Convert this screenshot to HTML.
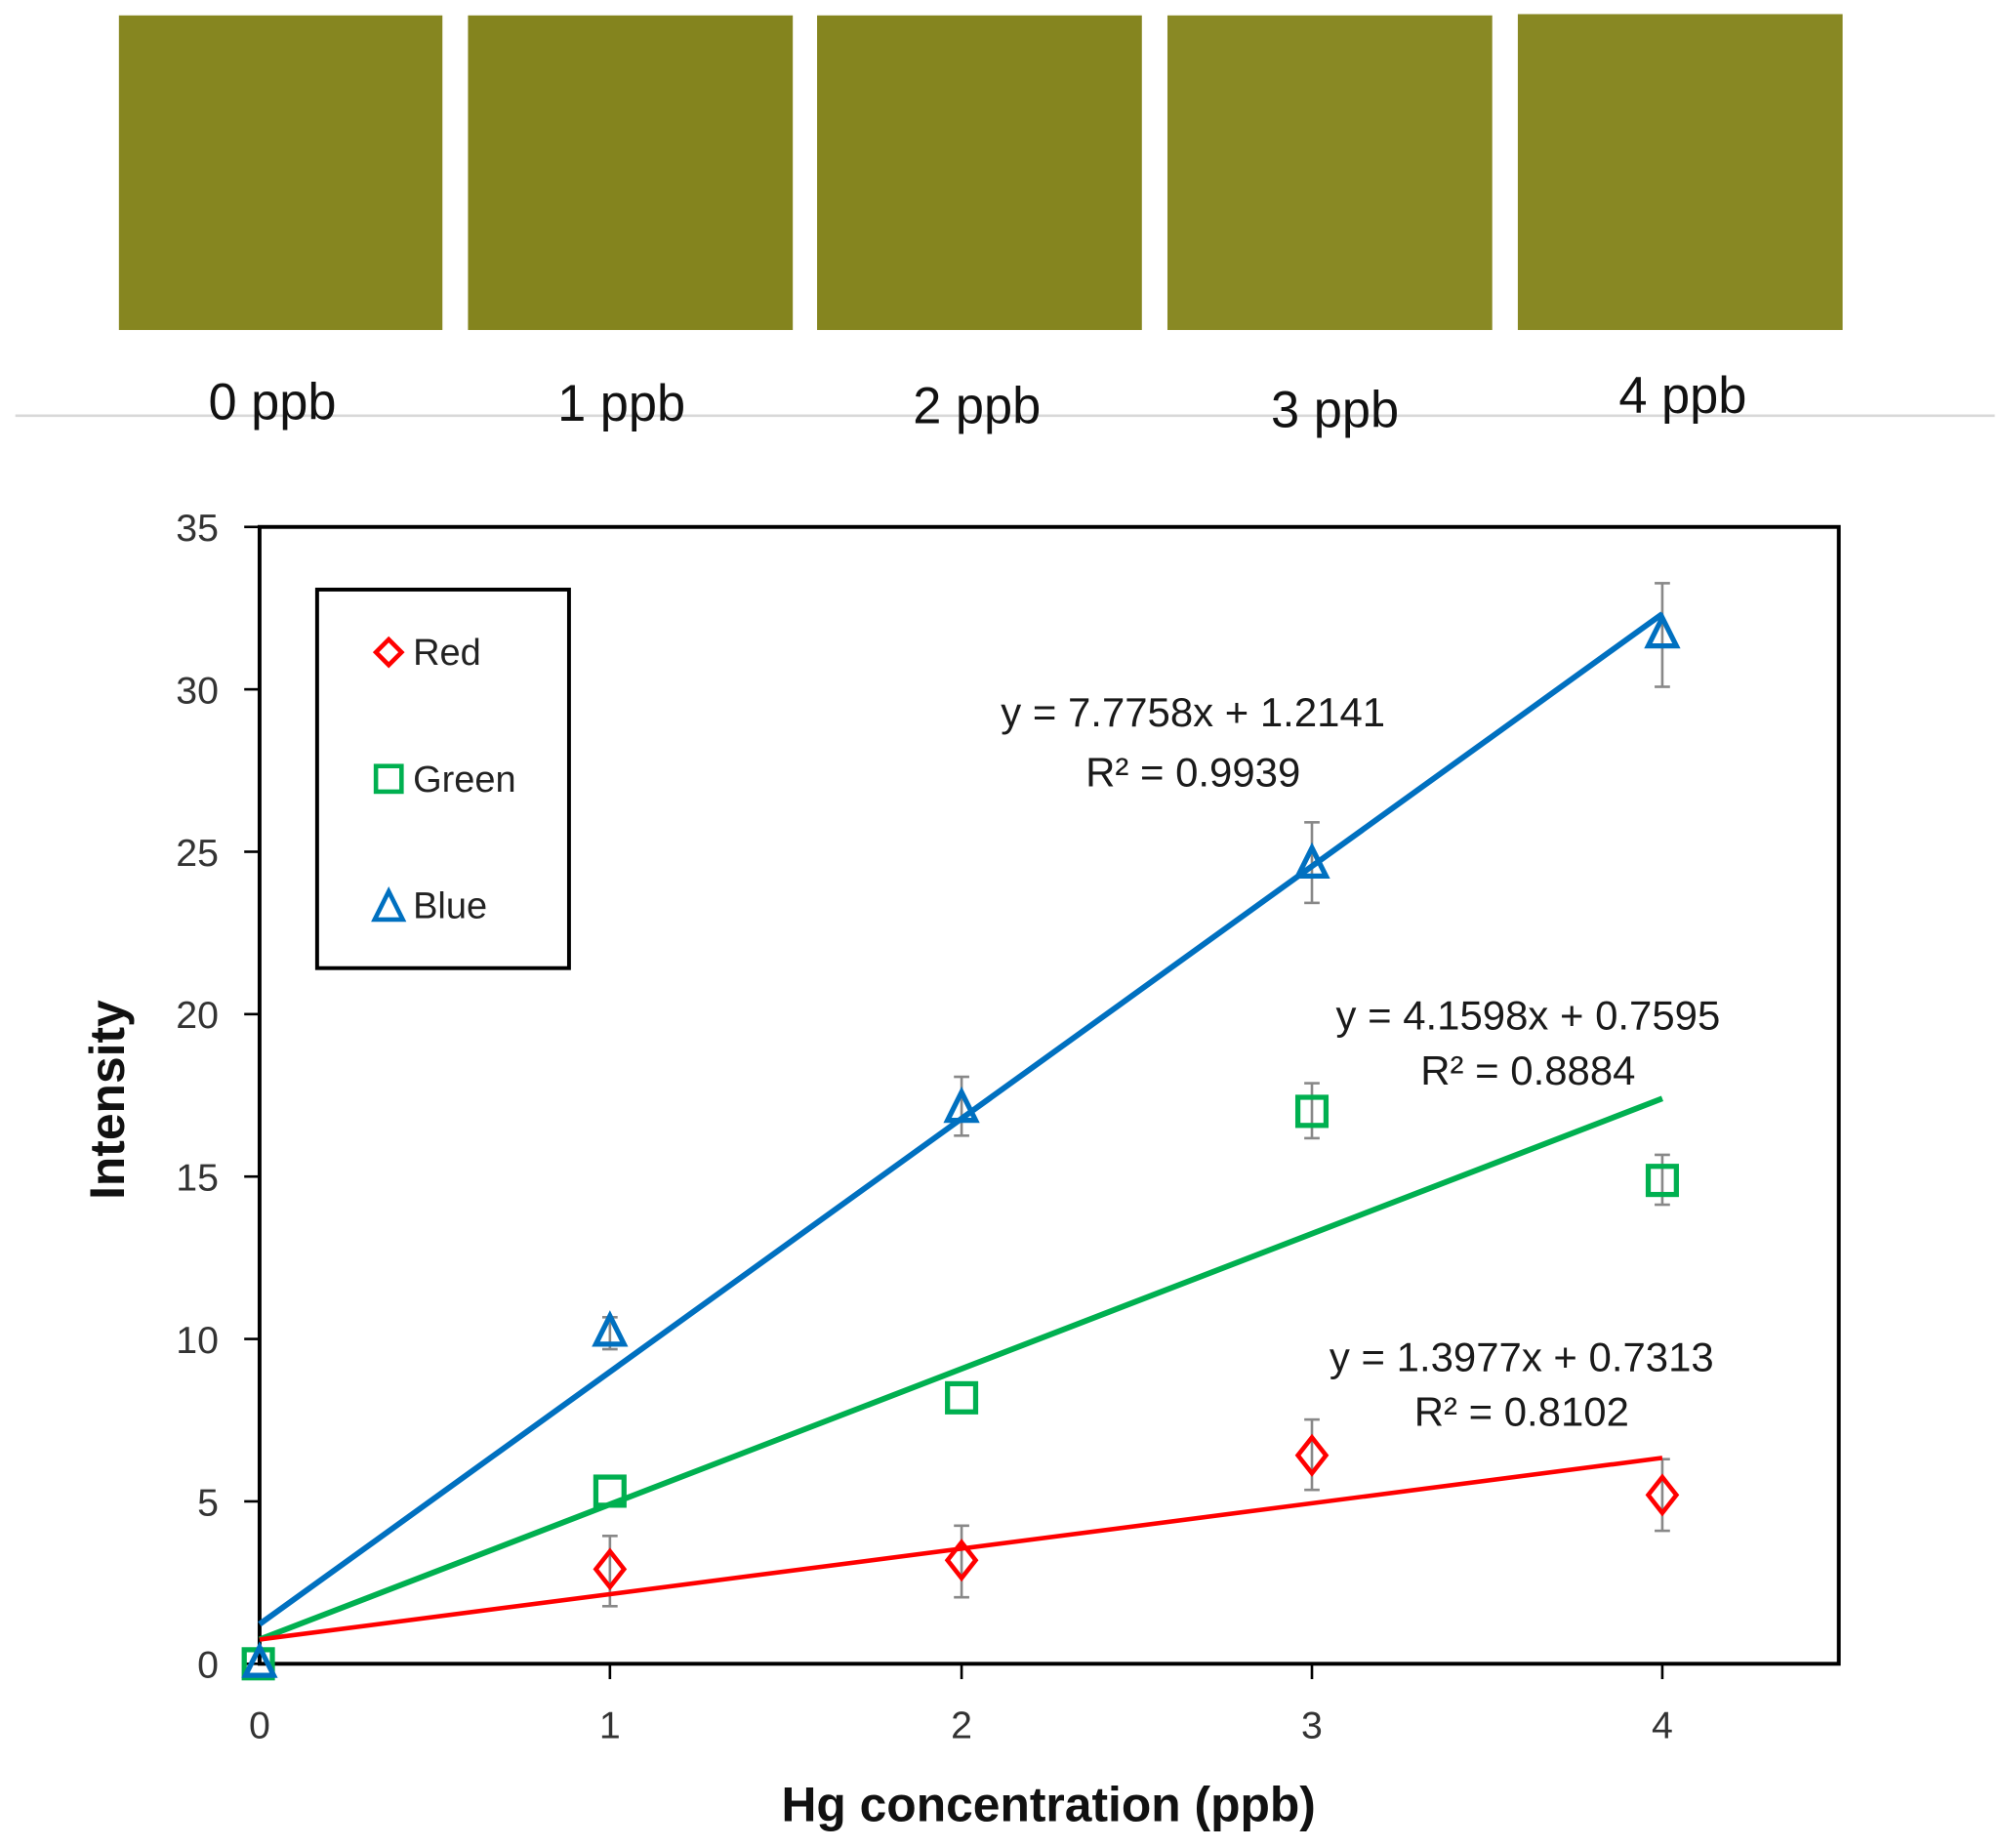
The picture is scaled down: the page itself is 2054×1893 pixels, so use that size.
<!DOCTYPE html>
<html><head><meta charset="utf-8"><style>html,body{margin:0;padding:0;background:#fff}svg{display:block}</style></head>
<body>
<svg width="2054" height="1893" viewBox="0 0 1568 1445" xmlns="http://www.w3.org/2000/svg" font-family="'Liberation Sans', 'DejaVu Sans', sans-serif">
<rect width="1568" height="1445" fill="#fff"/>
<g fill="#868620">
<rect x="93" y="12" width="253" height="246"/>
<rect x="366" y="12" width="254" height="246" fill="#84841e"/>
<rect x="639" y="12" width="254" height="246" fill="#85851f"/>
<rect x="913" y="12" width="254" height="246" fill="#898924"/>
<rect x="1187" y="11" width="254" height="247" fill="#888823"/>
</g>
<line x1="12" y1="325" x2="1560" y2="325" stroke="#d8d8d8" stroke-width="2"/>
<g font-size="40" fill="#111" text-anchor="middle">
<text x="213" y="328">0 ppb</text>
<text x="486" y="329">1 ppb</text>
<text x="764" y="331">2 ppb</text>
<text x="1044" y="334">3 ppb</text>
<text x="1316" y="323">4 ppb</text>
</g>
<rect x="203" y="412" width="1235" height="889" fill="none" stroke="#000" stroke-width="3"/>
<g stroke="#000" stroke-width="2">
<line x1="191" y1="412" x2="203" y2="412"/><line x1="191" y1="539" x2="203" y2="539"/>
<line x1="191" y1="666" x2="203" y2="666"/><line x1="191" y1="793" x2="203" y2="793"/>
<line x1="191" y1="920" x2="203" y2="920"/><line x1="191" y1="1047" x2="203" y2="1047"/>
<line x1="191" y1="1174" x2="203" y2="1174"/><line x1="191" y1="1301" x2="203" y2="1301"/>
<line x1="477" y1="1301" x2="477" y2="1313"/><line x1="752" y1="1301" x2="752" y2="1313"/>
<line x1="1026" y1="1301" x2="1026" y2="1313"/><line x1="1300" y1="1301" x2="1300" y2="1313"/>
</g>
<g font-size="30" fill="#333" text-anchor="end">
<text x="171" y="423">35</text><text x="171" y="550">30</text><text x="171" y="677">25</text>
<text x="171" y="804">20</text><text x="171" y="931">15</text><text x="171" y="1058">10</text>
<text x="171" y="1185">5</text><text x="171" y="1312">0</text>
</g>
<g font-size="30" fill="#333" text-anchor="middle">
<text x="203" y="1359">0</text><text x="477" y="1359">1</text><text x="752" y="1359">2</text>
<text x="1026" y="1359">3</text><text x="1300" y="1359">4</text>
</g>
<text x="820" y="1424" font-size="38" font-weight="bold" text-anchor="middle" fill="#111">Hg concentration (ppb)</text>
<text transform="translate(97,860) rotate(-90)" font-size="38" font-weight="bold" text-anchor="middle" fill="#111">Intensity</text>
<rect x="248" y="461" width="197" height="296" fill="#fff" stroke="#000" stroke-width="3"/>
<polygon points="304,500 314,510 304,520 294,510" fill="none" stroke="#f00" stroke-width="3.5"/>
<rect x="294" y="599" width="20" height="20" fill="none" stroke="#00b050" stroke-width="3.5"/>
<polygon points="304,697 315,719 293,719" fill="none" stroke="#0070c0" stroke-width="3.5"/>
<g font-size="29" fill="#222"><text x="323" y="520">Red</text><text x="323" y="619">Green</text><text x="323" y="718">Blue</text></g>
<g stroke="#888" stroke-width="2">
<line x1="477" y1="1030" x2="477" y2="1055"/><line x1="471" y1="1030" x2="483" y2="1030"/><line x1="471" y1="1055" x2="483" y2="1055"/>
<line x1="752" y1="842" x2="752" y2="888"/><line x1="746" y1="842" x2="758" y2="842"/><line x1="746" y1="888" x2="758" y2="888"/>
<line x1="1026" y1="643" x2="1026" y2="706"/><line x1="1020" y1="643" x2="1032" y2="643"/><line x1="1020" y1="706" x2="1032" y2="706"/>
<line x1="1300" y1="456" x2="1300" y2="537"/><line x1="1294" y1="456" x2="1306" y2="456"/><line x1="1294" y1="537" x2="1306" y2="537"/>
<line x1="1026" y1="847" x2="1026" y2="890"/><line x1="1020" y1="847" x2="1032" y2="847"/><line x1="1020" y1="890" x2="1032" y2="890"/>
<line x1="1300" y1="903" x2="1300" y2="942"/><line x1="1294" y1="903" x2="1306" y2="903"/><line x1="1294" y1="942" x2="1306" y2="942"/>
<line x1="477" y1="1201" x2="477" y2="1256"/><line x1="471" y1="1201" x2="483" y2="1201"/><line x1="471" y1="1256" x2="483" y2="1256"/>
<line x1="752" y1="1193" x2="752" y2="1249"/><line x1="746" y1="1193" x2="758" y2="1193"/><line x1="746" y1="1249" x2="758" y2="1249"/>
<line x1="1026" y1="1110" x2="1026" y2="1165"/><line x1="1020" y1="1110" x2="1032" y2="1110"/><line x1="1020" y1="1165" x2="1032" y2="1165"/>
<line x1="1300" y1="1141" x2="1300" y2="1197"/><line x1="1294" y1="1141" x2="1306" y2="1141"/><line x1="1294" y1="1197" x2="1306" y2="1197"/>
</g>
<line x1="203" y1="1270" x2="1300" y2="480" stroke="#0070c0" stroke-width="4.5"/>
<line x1="203" y1="1282" x2="1300" y2="859" stroke="#00b050" stroke-width="4.5"/>
<line x1="203" y1="1282" x2="1300" y2="1140" stroke="#f00" stroke-width="3.5"/>
<g fill="none" stroke="#f00" stroke-width="3.5">
<polygon points="477,1213 488,1227 477,1241 466,1227"/><polygon points="752,1206 763,1220 752,1234 741,1220"/>
<polygon points="1026,1124 1037,1138 1026,1152 1015,1138"/><polygon points="1300,1155 1311,1169 1300,1183 1289,1169"/>
</g>
<g fill="none" stroke="#00b050" stroke-width="4">
<rect x="191" y="1290" width="22" height="22"/><rect x="466" y="1155" width="22" height="22"/>
<rect x="741" y="1082" width="22" height="22"/><rect x="1015" y="858" width="22" height="22"/>
<rect x="1289" y="912" width="22" height="22"/>
</g>
<g fill="none" stroke="#0070c0" stroke-width="4">
<polygon points="203,1288 214,1310 192,1310"/><polygon points="477,1029 488,1051 466,1051"/>
<polygon points="752,854 763,876 741,876"/><polygon points="1026,663 1037,685 1015,685"/>
<polygon points="1300,483 1311,505 1289,505"/>
</g>
<g font-size="32" fill="#1a1a1a" text-anchor="middle">
<text x="933" y="568">y = 7.7758x + 1.2141</text><text x="933" y="615">R² = 0.9939</text>
<text x="1195" y="805">y = 4.1598x + 0.7595</text><text x="1195" y="848">R² = 0.8884</text>
<text x="1190" y="1072">y = 1.3977x + 0.7313</text><text x="1190" y="1115">R² = 0.8102</text>
</g>
</svg>
</body></html>
